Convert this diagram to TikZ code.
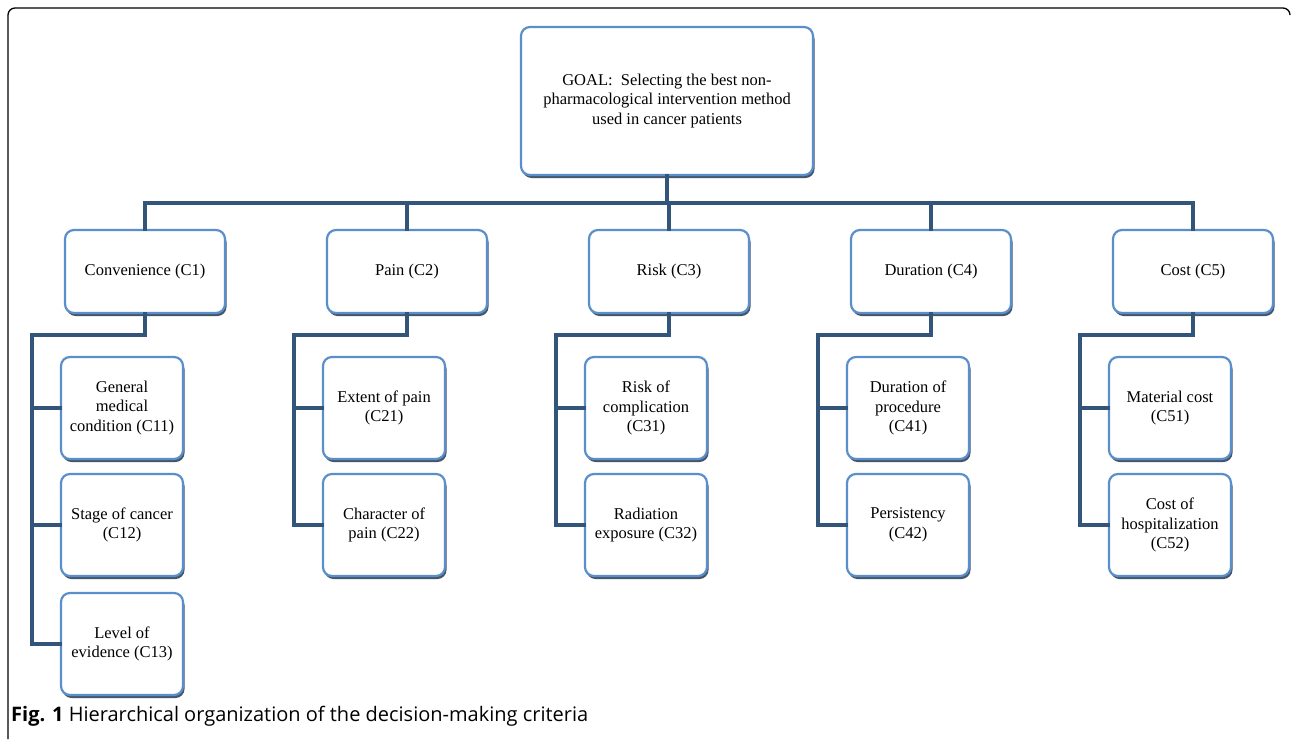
\documentclass[tikz,border=0pt]{standalone}
\usepackage{fontspec}
\setmainfont{Liberation Serif}
\newfontfamily\capfont{Open Sans}
\usetikzlibrary{shadows}
\definecolor{boxline}{HTML}{5B8FCB}
\definecolor{boxshadow}{HTML}{46566A}
\definecolor{connc}{HTML}{34557A}
\pgfdeclareverticalshading{boxshade}{100bp}{color(0bp)=(black!40); color(10bp)=(black!15); color(22bp)=(white); color(100bp)=(white)}
\begin{document}
\begin{tikzpicture}[x=1pt,y=-1pt,
  basebox/.style={rounded corners=9pt, draw=boxline, line width=2.2pt,
    shading=boxshade,
    drop shadow={shadow xshift=1.5pt, shadow yshift=-3pt, fill=boxshadow, opacity=1},
    align=center, font=\fontsize{16.5}{19.5}\selectfont, inner sep=2pt},
  goalbox/.style={basebox, minimum width=292pt, minimum height=148pt},
  critbox/.style={basebox, minimum width=160pt, minimum height=83pt},
  subbox/.style={basebox, minimum width=122pt, minimum height=102pt},
  conn/.style={draw=connc, line width=3.4pt, line join=miter, line cap=rect}
]
\fill[white] (0,0) rectangle (1292,739);
\useasboundingbox (0,0) rectangle (1292,739);
% frame
\draw[line width=1.3pt, rounded corners=7pt] (8,739) -- (8,8) -- (1290,8) -- (1290,15);

% goal
\node[goalbox] (goal) at (667,101) {GOAL:\ \ Selecting the best non-\\pharmacological intervention method\\used in cancer patients};

% criteria
\node[critbox] (c1) at (145,271.5) {Convenience (C1)};
\node[critbox] (c2) at (407,271.5) {Pain (C2)};
\node[critbox] (c3) at (669,271.5) {Risk (C3)};
\node[critbox] (c4) at (931,271.5) {Duration (C4)};
\node[critbox] (c5) at (1193,271.5) {Cost (C5)};

% sub-criteria
\node[subbox] (c11) at (122,408) {General\\medical\\condition (C11)};
\node[subbox] (c12) at (122,525) {Stage of cancer\\(C12)};
\node[subbox] (c13) at (122,644) {Level of\\evidence (C13)};
\node[subbox] (c21) at (384,408) {Extent of pain\\(C21)};
\node[subbox] (c22) at (384,525) {Character of\\pain (C22)};
\node[subbox] (c31) at (646,408) {Risk of\\complication\\(C31)};
\node[subbox] (c32) at (646,525) {Radiation\\exposure (C32)};
\node[subbox] (c41) at (908,408) {Duration of\\procedure\\(C41)};
\node[subbox] (c42) at (908,525) {Persistency\\(C42)};
\node[subbox] (c51) at (1170,408) {Material cost\\(C51)};
\node[subbox] (c52) at (1170,525) {Cost of\\hospitalization\\(C52)};

% connectors level 0-1
\coordinate (bus) at (0,203);
\draw[conn] (goal.south) -- (goal.south |- bus);
\draw[conn] (c1.north) -- (c1.north |- bus) -| (c5.north);
\draw[conn] (c2.north) -- (c2.north |- bus);
\draw[conn] (c3.north) -- (c3.north |- bus);
\draw[conn] (c4.north) -- (c4.north |- bus);

% connectors level 1-2
\coordinate (j1) at (32,335);
\coordinate (j2) at (294,335);
\coordinate (j3) at (556,335);
\coordinate (j4) at (818,335);
\coordinate (j5) at (1080,335);
\draw[conn] (c1.south) |- (j1) -- (j1 |- c13.west);
\draw[conn] (c11.west) -- (c11.west -| j1);
\draw[conn] (c12.west) -- (c12.west -| j1);
\draw[conn] (c13.west) -- (c13.west -| j1);
\draw[conn] (c2.south) |- (j2) -- (j2 |- c22.west);
\draw[conn] (c21.west) -- (c21.west -| j2);
\draw[conn] (c22.west) -- (c22.west -| j2);
\draw[conn] (c3.south) |- (j3) -- (j3 |- c32.west);
\draw[conn] (c31.west) -- (c31.west -| j3);
\draw[conn] (c32.west) -- (c32.west -| j3);
\draw[conn] (c4.south) |- (j4) -- (j4 |- c42.west);
\draw[conn] (c41.west) -- (c41.west -| j4);
\draw[conn] (c42.west) -- (c42.west -| j4);
\draw[conn] (c5.south) |- (j5) -- (j5 |- c52.west);
\draw[conn] (c51.west) -- (c51.west -| j5);
\draw[conn] (c52.west) -- (c52.west -| j5);

% caption
\node[anchor=west, inner sep=0pt, font=\capfont\fontsize{20}{24}\selectfont] (cap) at (11,716)
  {\textbf{Fig. 1} Hierarchical organization of the decision-making criteria};
\end{tikzpicture}
\end{document}
